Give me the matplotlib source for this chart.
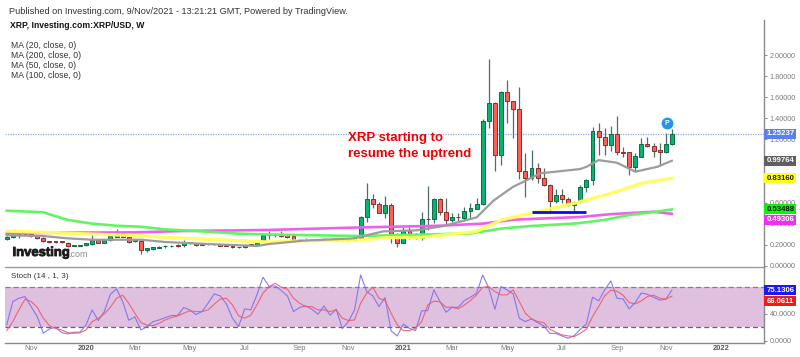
import matplotlib
matplotlib.use("Agg")
import matplotlib.pyplot as plt
import matplotlib.patheffects as pe
from matplotlib.patches import Rectangle

plt.rcParams['font.family'] = ['Liberation Sans', 'DejaVu Sans']

# ---- data (weekly bars, index 0..109) ----
opens = [.25,.269,.298,.302,.298,.285,.266,.231,.231,.231,.219,.192,.192,.193,.209,.244,.219,.241,.276,.307,
         .276,.235,.238,.146,.155,.171,.184,.188,.193,.193,.222,.219,.206,.203,.206,.206,.196,.187,.176,.178,
         .2,.196,.241,.29,.293,.298,.29,.279,.241,.25,.253,.244,.241,.253,.241,.253,.241,.247,.266,.466,
         .63,.586,.504,.577,.295,.219,.326,.282,.26,.44,.44,.634,.51,.434,.466,.456,.523,.542,.583,1.378,
         1.543,1.049,1.654,1.562,1.486,.903,.833,.925,.833,.764,.618,.675,.631,.58,.602,.748,.814,1.283,1.22,1.147,
         1.252,1.077,1.077,.935,1.036,1.16,1.137,1.10,1.084,1.153]
closes = [.276,.295,.301,.30,.282,.263,.234,.222,.224,.222,.187,.194,.194,.215,.241,.219,.241,.279,.307,.276,
          .225,.24,.149,.165,.174,.177,.19,.19,.191,.225,.212,.2,.2,.206,.204,.19,.19,.175,.178,.2,
          .198,.212,.291,.292,.295,.285,.272,.241,.25,.253,.241,.238,.253,.241,.253,.241,.25,.27,.466,.63,
          .586,.504,.577,.295,.219,.326,.276,.26,.44,.44,.634,.51,.434,.466,.46,.523,.545,.586,1.378,1.543,
          1.049,1.654,1.562,1.486,.903,.833,.925,.833,.764,.618,.675,.631,.58,.602,.748,.814,1.283,1.22,1.147,1.252,
          1.077,1.075,.935,1.039,1.16,1.137,1.093,1.084,1.153,1.252]
highs = [.285,.314,.32,.31,.305,.29,.27,.235,.235,.233,.222,.198,.2,.22,.326,.25,.245,.285,.349,.315,
         .28,.245,.24,.17,.178,.185,.2,.2,.205,.24,.225,.22,.21,.21,.21,.21,.2,.19,.18,.205,
         .205,.218,.3,.33,.315,.33,.295,.3,.255,.262,.258,.248,.26,.258,.265,.258,.255,.275,.47,.783,
         .681,.608,.662,.593,.307,.371,.371,.31,.513,.757,.64,.64,.646,.497,.497,.56,.599,.64,1.391,1.965,
         1.559,1.664,1.765,1.57,1.698,1.068,1.1,.973,.925,.776,.726,.726,.656,.618,.767,.824,1.315,1.353,1.305,1.328,
         1.423,1.131,1.084,1.068,1.21,1.226,1.166,1.163,1.258,1.296]
lows = [.245,.26,.26,.295,.275,.255,.23,.215,.22,.22,.18,.188,.188,.19,.2,.215,.215,.238,.27,.27,
        .215,.23,.114,.135,.15,.168,.17,.175,.175,.18,.208,.185,.197,.198,.2,.185,.186,.17,.172,.172,
        .195,.192,.235,.253,.272,.272,.265,.23,.238,.245,.235,.235,.238,.238,.238,.237,.238,.243,.26,.415,
        .551,.497,.45,.219,.174,.219,.253,.25,.244,.339,.409,.482,.387,.412,.42,.428,.45,.54,.58,1.312,
        .903,.954,1.359,1.21,.827,.656,.814,.789,.76,.523,.593,.593,.57,.523,.593,.70,.764,1.052,1.055,1.09,
        1.052,1.03,.865,.894,1.03,1.125,1.03,.954,1.074,1.15]

ma20_i = [0,6,10,14,22,26,33,41,43,48.6,56.8,61.7,67.2,71.5,77,79.8,83,84.7,87.4,94,95,97,100,103,106.6,109]
ma20_v = [.29,.282,.26,.247,.247,.225,.206,.187,.206,.238,.26,.326,.336,.377,.459,.62,.751,.798,.878,.919,.94,1.004,.979,.894,.94,.99764]
ma50_i = [0,6,14,22,26,33,38,43,48.6,56.8,62,68,77,81,87,93,99,104,109]
ma50_v = [.33,.317,.30,.285,.27,.25,.238,.225,.238,.238,.266,.27,.326,.434,.513,.593,.688,.783,.8316]
ma100_i = [0,6,10,14,18,22,26,30,34,38,43,58,76,81.4,85.8,93.4,97.8,102,106,109]
ma100_v = [.523,.508,.435,.40,.38,.37,.345,.333,.32,.305,.297,.282,.307,.355,.377,.402,.434,.482,.51,.53488]
ma200_i = [0,10,21,29,38,43,58,71,78,83,87,94,99,106,109]
ma200_v = [.307,.314,.317,.33,.336,.34,.364,.38,.40,.437,.447,.463,.49,.513,.49306]

stoch_k = [23.5,58.2,63.1,65.6,50.7,35.9,11.1,17.5,20,12,10,12.6,12.6,23.5,45.8,29.9,43.3,69.1,77,58.2,
           30.4,35.4,16,21,28.4,30.9,34.4,37.4,37.4,49.3,45.8,38.8,43.3,55.7,69.6,66.6,54.7,33.4,21,47.3,
           45.8,68.1,94.4,80.5,81.5,74.5,66.6,43.3,49.3,51.7,46.8,39.3,51.7,37.8,46.8,18,28.4,45.8,97.8,73,
           66.6,50.7,64.1,14.5,7.1,24.5,18.5,15,44.3,44.8,75.5,58.2,42.3,49.7,49.7,59.7,64.6,70.6,97.8,78,
           46.8,80.5,75.5,69.6,33.4,28.4,32.4,26.9,22,11,10.6,7.1,3.6,7.6,17,25,64.6,59.2,75.5,88.9,
           63.1,62,47.3,56.7,71,69,64.6,60.2,61.6,75.13]
stoch_d = [15,28.4,45.8,61.6,58.2,49.7,33.4,22.5,18,16,12,11,11.6,16,28.4,33.4,39.8,49.7,63.1,67.6,
           55.7,40.8,26.9,23,22.5,26,30.9,34.4,36.9,40.8,44.3,43.3,43.3,45.8,54.2,62.1,63.1,53.2,36.9,33.4,
           37.8,53.2,70.6,80.5,85.4,79.5,76.5,63.1,55.7,50.7,50.7,45.8,45.8,43.3,45.8,33.4,29.9,30.9,55.7,70.6,
           79.5,63.1,59.7,40.8,23.5,15,15,18.5,28.4,53.2,58.7,57.7,49.7,49.7,47.3,53.2,59.7,68.1,79.5,80.5,
           73,68.1,68.1,75.5,58.2,40.8,32.4,28.4,27,17,12.6,8.6,7.1,6.1,11,17,35.9,50.7,66.6,75,
           73.5,67.6,56.7,54.7,59.2,65.6,67.6,63.1,62,66.06]

support_i = [86, 95]
support_v = [.506, .506]
last_price = 1.25237
price_ticks = [0.0, 0.2, 0.4, 0.6, 1.2, 1.4, 1.6, 1.8, 2.0]
stoch_ticks = [0, 40]
time_pos = [4, 13, 21, 30, 39, 48, 56, 65, 73, 82, 91, 100, 108, 117]
time_labels = ['Nov', '2020', 'Mar', 'May', 'Jul', 'Sep', 'Nov', '2021', 'Mar', 'May', 'Jul', 'Sep', 'Nov', '2022']
ma_labels = ['MA (20, close, 0)', 'MA (200, close, 0)', 'MA (50, close, 0)', 'MA (100, close, 0)']

W, H = 800, 357
fig = plt.figure(figsize=(W / 100, H / 100), dpi=100, facecolor='white')

def box(l, t, r, b):
    return [l / W, 1 - b / H, (r - l) / W, (b - t) / H]

def px(x, y, s, **kw):
    return fig.text(x / W, 1 - y / H, s, va='center', **kw)

ax = fig.add_axes(box(5, 20, 764, 266.7))
sx = fig.add_axes(box(5, 266.7, 764, 342.5))
xlim = (-0.28, 124.1)
ax.set_xlim(*xlim); sx.set_xlim(*xlim)
ax.set_ylim(-0.0095, 2.336)
sx.set_ylim(-2.7, 110)

for s in ('top', 'left', 'right', 'bottom'):
    ax.spines[s].set_visible(False)
    sx.spines[s].set_visible(False)
ax.spines['bottom'].set_visible(True); ax.spines['bottom'].set_color('#9a9a9a'); ax.spines['bottom'].set_linewidth(1.0)
sx.spines['bottom'].set_visible(True); sx.spines['bottom'].set_color('#8a8a8a'); sx.spines['bottom'].set_linewidth(1.0)
for a in (ax, sx):
    a.spines['right'].set_visible(True); a.spines['right'].set_color('#8a8a8a'); a.spines['right'].set_linewidth(1.0)
    a.patch.set_alpha(0)

# candles
GREEN, GREEN_E = '#07b46e', '#0c6b48'
RED, RED_E = '#fb5f55', '#86302c'
for i, (o, h, l, c) in enumerate(zip(opens, highs, lows, closes)):
    up = c >= o
    ax.plot([i, i], [l, h], color='#4d6f62' if up else '#5d6a62', lw=0.9, zorder=2, solid_capstyle='butt')
    lo, hi = min(o, c), max(o, c)
    ax.add_patch(Rectangle((i - 0.32, lo), 0.64, max(hi - lo, 0.004),
                           facecolor=GREEN if up else RED, edgecolor=GREEN_E if up else RED_E,
                           lw=0.7, zorder=3))

# moving averages
ax.plot(ma200_i, ma200_v, color='#ef5fef', lw=1.9, zorder=4)
ax.plot(ma100_i, ma100_v, color='#62f562', lw=1.9, zorder=4)
ax.plot(ma50_i, ma50_v, color='#ffff5c', lw=2.4, alpha=0.95, zorder=4)
ax.plot(ma20_i, ma20_v, color='#9c9c9c', lw=1.6, zorder=5)
ax.plot(support_i, support_v, color='#0a0aee', lw=2.0, zorder=6, solid_capstyle='butt')
ax.axhline(last_price, color='#8fa8ee', lw=0.9, ls=(0, (1, 1)), zorder=1)

# "P" marker
ax.plot([108.2], [1.356], marker='o', ms=7.5, color='#1e96f0', zorder=7, clip_on=False)
ax.text(108.2, 1.356, 'P', color='white', fontsize=5, fontweight='bold', ha='center', va='center', zorder=8)

# stochastic
sx.axhspan(20, 80, color='#dfc0de', zorder=0, lw=0)
sx.axhline(80, color='#8a7a8a', lw=0.9, ls=(0, (4, 2.5)), zorder=1)
sx.axhline(20, color='#6f5f6f', lw=0.9, ls=(0, (4, 2.5)), zorder=1)
sx.plot(range(len(stoch_k)), stoch_k, color='#7a6ff0', lw=0.8, alpha=0.9, zorder=3)
sx.plot(range(len(stoch_d)), stoch_d, color='#ee5a6a', lw=0.8, alpha=0.9, zorder=4)

# ticks
TICK_FS = 5.2
ax.set_xticks([]); sx.set_xticks(time_pos)
sx.set_xticklabels(time_labels, fontsize=5.4, color='#7a7a7a')
sx.tick_params(axis='x', length=0, pad=2)
for lbl, t in zip(sx.get_xticklabels(), time_labels):
    if t in ('2020', '2021', '2022'):
        lbl.set_color('#555555'); lbl.set_fontweight('bold')
ax.yaxis.tick_right(); sx.yaxis.tick_right()
ax.set_yticks(price_ticks); ax.set_yticklabels([f'{v:.5f}' for v in price_ticks], fontsize=TICK_FS, color='#7a7a7a')
sx.set_yticks(stoch_ticks); sx.set_yticklabels([f'{v:.4f}' for v in stoch_ticks], fontsize=TICK_FS, color='#7a7a7a')
for a in (ax, sx):
    a.tick_params(axis='y', length=2.0, width=0.7, color='#8a8a8a', pad=2.2)

# value tags on the right-hand scale
def tag(axis, val, text, bg, fg, shift=0):
    y_px = H - axis.transData.transform((0, val))[1] + shift
    fig.add_artist(Rectangle((764 / W, 1 - (y_px + 5) / H), 32 / W, 10 / H, transform=fig.transFigure,
                             facecolor=bg, edgecolor='none', zorder=10))
    fig.text(780.5 / W, 1 - y_px / H, text, ha='center', va='center', fontsize=5.6, fontweight='bold',
             color=fg, zorder=11)

tag(ax, last_price, '1.25237', '#5c7fe8', 'white')
tag(ax, ma20_v[-1], '0.99764', '#5f5f5f', 'white')
tag(ax, ma50_v[-1], '0.83160', '#ffff20', '#222222')
tag(ax, ma100_v[-1], '0.53488', '#10f010', '#111111')
tag(ax, ma200_v[-1], '0.49306', '#f030f0', 'white', shift=6)
tag(sx, stoch_k[-1], '75.1306', '#1a1aee', 'white')
tag(sx, stoch_d[-1], '66.0611', '#f01a1a', 'white', shift=5)

# texts
px(9, 11, 'Published on Investing.com, 9/Nov/2021 - 13:21:21 GMT, Powered by TradingView.', fontsize=6.6, color='#333333')
px(10, 26, 'XRP, Investing.com:XRP/USD, W', fontsize=6.2, color='#111111', fontweight='bold')
for y, s in zip((45.5, 55.5, 66, 76), ma_labels):
    px(11, y, s, fontsize=6.25, color='#333333')
px(11, 277, 'Stoch (14 , 1, 3)', fontsize=5.8, color='#333333')
px(348, 138.5, 'XRP starting to', fontsize=9.5, color='#ee0000', fontweight='bold')
px(348, 154.5, 'resume the uptrend', fontsize=9.5, color='#ee0000', fontweight='bold')
logo = px(12.5, 253, 'Investing', fontsize=9.4, color='#1c1c1c', fontweight='bold')
logo.set_path_effects([pe.withStroke(linewidth=0.6, foreground='#1c1c1c')])
px(68.5, 254.5, '.com', fontsize=6.5, color='#8a8a8a')

fig.savefig('out.png', dpi=100, facecolor='white')
